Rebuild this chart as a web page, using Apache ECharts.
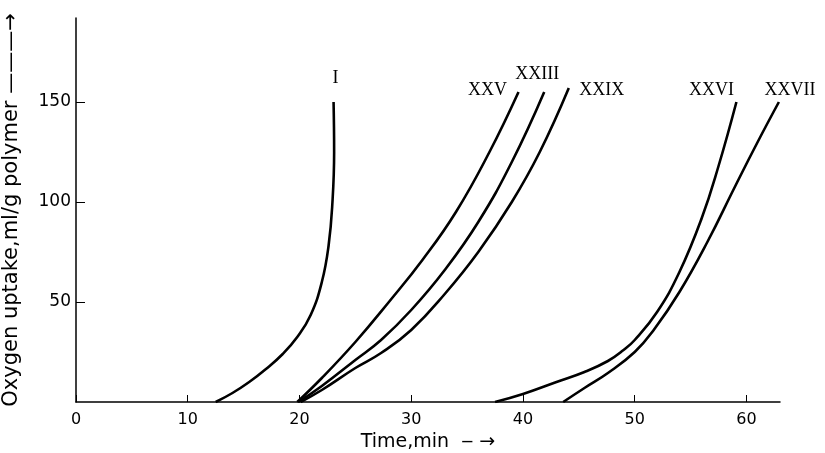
<!DOCTYPE html>
<html>
<head>
<meta charset="utf-8">
<script src="https://cdn.jsdelivr.net/npm/echarts/dist/echarts.min.js"></script>
<style>
html, body { margin: 0; padding: 0; background: #fff; }
#container { width: 825px; height: 453px; }
</style>
</head>
<body>
<div id="container"></div>
<script>
// curve names (Roman numerals as printed in the figure)
var curveNames = ['I', 'XXV', 'XXIII', 'XXIX', 'XXVI', 'XXVII'];

// [time (min), oxygen uptake (ml/g polymer)]
var curveI = [[12.5, 0], [14, 4.5], [15.5, 10], [17, 16.5], [18.5, 24], [19.8, 32.5], [21, 43.5], [22, 60], [22.6, 78], [22.95, 100], [23.1, 125], [23.05, 150]];
var curveXXV = [[19.8, 0], [22, 12], [25, 30], [28, 50], [31, 71], [34, 95], [37, 125], [39.6, 155]];
var curveXXIII = [[19.9, 0], [22, 8], [25, 21], [27.3, 31], [30, 46], [33, 66], [36, 90], [39, 120], [41.9, 155]];
var curveXXIX = [[20.1, 0], [22, 6], [25, 17], [27.3, 24.5], [30, 36], [33, 54], [36, 75], [39, 100], [41.5, 125], [44.1, 157]];
var curveXXVI = [[37.5, 0], [40, 4], [43, 10], [45.5, 15], [47.6, 20.5], [49, 26], [50, 31], [52, 45], [54, 65], [56, 92], [57.5, 118], [59.1, 150]];
var curveXXVII = [[43.6, 0], [45.5, 7], [47.6, 14.5], [50, 25], [51.7, 36], [54, 55], [56.5, 80], [59, 108], [61, 130], [62.9, 150]];

var curves = [curveI, curveXXV, curveXXIII, curveXXIX, curveXXVI, curveXXVII];

// label offset in px from each curve's last point
var labelOffset = [[2, -24], [-31, -2], [-7, -18], [33, 2], [-25, -12], [11, -12]];

var dom = document.getElementById('container');
var myChart = echarts.init(dom);

var axisFont = "'DejaVu Sans', sans-serif";

var series = curves.map(function (d, i) {
    return {
        name: curveNames[i],
        type: 'line',
        data: d,
        smooth: 0.45,
        showSymbol: false,
        lineStyle: { color: '#000', width: 2.6 }
    };
});

var option = {
    animation: false,
    backgroundColor: '#fff',
    grid: { left: 76, right: 45, top: 18, bottom: 51, outerBoundsMode: 'none', containLabel: false },
    xAxis: {
        type: 'value',
        min: 0,
        max: 63,
        interval: 10,
        name: 'Time,min  \u2012 \u2192',
        nameLocation: 'middle',
        nameGap: 30,
        nameTextStyle: { color: '#000', fontSize: 19, fontFamily: axisFont },
        axisLine: { lineStyle: { color: '#000', width: 1.5 } },
        axisTick: { inside: true, length: 7, lineStyle: { color: '#000' } },
        axisLabel: {
            color: '#000', fontSize: 16, fontFamily: axisFont, margin: 10,
            showMaxLabel: false
        },
        splitLine: { show: false }
    },
    yAxis: {
        type: 'value',
        min: 0,
        max: 192,
        interval: 50,
        name: 'Oxygen uptake,ml/g polymer \u2014\u2014\u2014\u2192',
        nameLocation: 'middle',
        nameRotate: 90,
        nameGap: 54,
        nameTextStyle: { color: '#000', fontSize: 21, fontFamily: axisFont },
        axisLine: { lineStyle: { color: '#000', width: 1.5 } },
        axisTick: { inside: true, length: 9, lineStyle: { color: '#000' } },
        axisLabel: {
            color: '#000', fontSize: 17, fontFamily: axisFont, margin: 5,
            showMinLabel: false, showMaxLabel: false
        },
        splitLine: { show: false }
    },
    series: series
};

myChart.setOption(option, true);

// curve labels placed next to the top end of each curve
var texts = curves.map(function (d, i) {
    var p = myChart.convertToPixel({ gridIndex: 0 }, d[d.length - 1]);
    return {
        type: 'text',
        x: p[0] + labelOffset[i][0],
        y: p[1] + labelOffset[i][1],
        style: {
            text: curveNames[i],
            fill: '#000',
            font: "18px 'Liberation Serif', serif",
            align: 'center',
            verticalAlign: 'middle'
        }
    };
});
myChart.setOption({ graphic: texts });
</script>
</body>
</html>
